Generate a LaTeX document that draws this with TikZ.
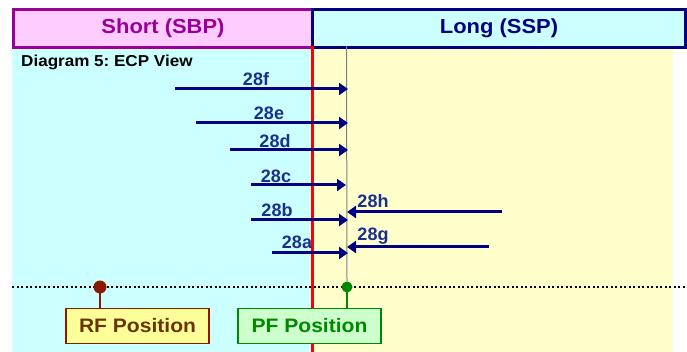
\documentclass[tikz,border=0pt]{standalone}
\usepackage{fontspec}
\setmainfont[FakeStretch=1.08]{Liberation Sans}
\newfontfamily\lblfont{Liberation Sans}
\usetikzlibrary{arrows.meta}
\definecolor{hdrpink}{HTML}{FFCCFF}
\definecolor{hdrpurple}{HTML}{990099}
\definecolor{hdrcyan}{HTML}{CCFFFF}
\definecolor{navyc}{HTML}{000080}
\definecolor{lblblue}{HTML}{1A2F8F}
\definecolor{bgcyan}{HTML}{CCFFFF}
\definecolor{bgyellow}{HTML}{FFFFCC}
\definecolor{rfred}{HTML}{8B1A00}
\definecolor{rffill}{HTML}{FFFF99}
\definecolor{rftext}{HTML}{6B3300}
\definecolor{pfgreen}{HTML}{008800}
\definecolor{pffill}{HTML}{CCFFCC}
\tikzset{
  arr/.style={draw=navyc, line width=3pt, -{Triangle[length=9pt,width=12pt]}},
  lbl/.style={text=lblblue, font=\lblfont\fontsize{18}{18}\selectfont\bfseries, inner sep=0pt},
  hdr/.style={line width=3pt, minimum height=38pt, anchor=north west, inner sep=0pt,
    font=\fontsize{20.3}{22}\selectfont\bfseries},
  posbox/.style={line width=1.5pt, minimum width=143pt, minimum height=35pt, inner sep=0pt,
    font=\fontsize{19.5}{22}\selectfont\bfseries},
}
\frenchspacing
\begin{document}
\begin{tikzpicture}[x=1pt,y=-1pt]
\useasboundingbox (0,0) rectangle (687,352);
% backgrounds
\fill[bgcyan] (12,46) rectangle (312,352);
\fill[bgyellow] (312,46) rectangle (673,352);
% header
\node[hdr, draw=hdrpurple, fill=hdrpink, text=hdrpurple, minimum width=299pt] (short) at (12,8) {Short (SBP)};
\node[hdr, draw=navyc, fill=hdrcyan, text=navyc, minimum width=373pt] (long) at (311,8) {Long (SSP)};
\node[anchor=west, font=\fontsize{15.8}{16}\selectfont\bfseries, inner sep=0pt] (title) at (21,62.5) {Diagram 5: ECP View};
% vertical lines
\coordinate (rtop) at (312.5,46);
\coordinate (rbot) at (312.5,352);
\coordinate (gtop) at (346.5,46);
\draw[red, line width=3pt] (rtop) -- (rbot);
% dotted baseline
\coordinate (dl) at (12,287);
\coordinate (dr) at (687,287);
\draw[line width=2.2pt, dash pattern=on 2.2pt off 2.3pt] (dl) -- (dr);
% position dots
\node[circle, fill=pfgreen, inner sep=0pt, minimum size=11pt] (pfdot) at (347,287) {};
\node[circle, fill=rfred, inner sep=0pt, minimum size=13pt] (rfdot) at (100,287) {};
\draw[gray, line width=1pt] (gtop) -- (pfdot.north);
% position boxes
\node[posbox, draw=rfred, fill=rffill, text=rftext] (rf) at (137.5,326) {RF Position};
\node[posbox, draw=pfgreen, fill=pffill, text=pfgreen] (pf) at (309.5,326) {PF Position};
\draw[rfred, line width=2pt] (rfdot.center) -- (rf.north -| rfdot);
\draw[pfgreen, line width=2pt] (pfdot.center) -- (pf.north -| pfdot);
% arrows from left
\coordinate (f0) at (175,89);  \coordinate (f1) at (348,89);
\coordinate (e0) at (196,123); \coordinate (e1) at (348,123);
\coordinate (d0) at (230,150); \coordinate (d1) at (348,150);
\coordinate (c0) at (251,185); \coordinate (c1) at (346,185);
\coordinate (b0) at (251,220); \coordinate (b1) at (348,220);
\coordinate (a0) at (272,253); \coordinate (a1) at (348,253);
\draw[arr] (f0) -- (f1);
\draw[arr] (e0) -- (e1);
\draw[arr] (d0) -- (d1);
\draw[arr] (c0) -- (c1);
\draw[arr] (b0) -- (b1);
\draw[arr] (a0) -- (a1);
\node[lbl] (l28f) at (256,79) {28f};
\node[lbl] (l28e) at (269,113) {28e};
\node[lbl] (l28d) at (275,141) {28d};
\node[lbl] (l28c) at (276,176) {28c};
\node[lbl] (l28b) at (277,210) {28b};
\node[lbl] (l28a) at (297,242) {28a};
% arrows from right
\coordinate (h0) at (502,212); \coordinate (h1) at (347,212);
\coordinate (g0) at (489,247); \coordinate (g1) at (347,247);
\draw[arr] (h0) -- (h1);
\draw[arr] (g0) -- (g1);
\node[lbl] (l28h) at (373,201) {28h};
\node[lbl] (l28g) at (373,236) {28g};
\end{tikzpicture}
\end{document}
